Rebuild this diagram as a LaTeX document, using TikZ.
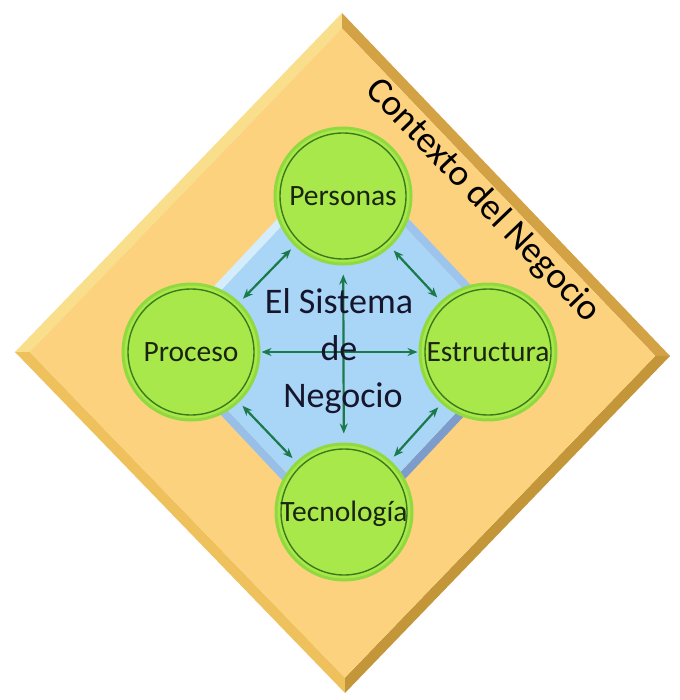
\documentclass[tikz,border=0pt]{standalone}
\usepackage{fontspec}
\setmainfont{Carlito}
\usetikzlibrary{arrows.meta,calc}
\definecolor{oface}{HTML}{FDD27E}
\definecolor{obUL}{HTML}{F9DE8C}
\definecolor{obUR}{HTML}{D2A244}
\definecolor{obLR}{HTML}{C4963A}
\definecolor{obLL}{HTML}{EEC15C}
\definecolor{bface}{HTML}{A9D5F6}
\definecolor{bbUL}{HTML}{D4EDFC}
\definecolor{bbUR}{HTML}{9CC4EC}
\definecolor{bbLR}{HTML}{7E9CCB}
\definecolor{bbLL}{HTML}{97BFE7}
\definecolor{ballfill}{HTML}{A8E84A}
\definecolor{ballring}{HTML}{90DA40}
\definecolor{balldark}{HTML}{3A7A1C}
\definecolor{balltext}{HTML}{1A2410}
\definecolor{linkc}{HTML}{1B7A4C}
\definecolor{maintext}{HTML}{15152B}
\begin{document}
\begin{tikzpicture}[x=1pt,y=-1pt,
  ball/.style={circle, minimum size=136pt, inner sep=0pt, fill=ballfill, draw=ballring,
    line width=3pt, font=\fontsize{29.5}{31}\selectfont, text=balltext,
    text height=19pt, text depth=0pt,
    path picture={\draw[balldark,line width=1.4pt] (path picture bounding box.center) circle (63pt);}},
  link/.style={draw=linkc, line width=2.2pt,
    arrows={Stealth[length=10pt,width=8pt]-Stealth[length=10pt,width=8pt]}},
  bigtext/.style={font=\fontsize{36}{40}\selectfont, text=maintext, anchor=base, inner sep=0pt}]
\useasboundingbox (0,0) rectangle (679,700);
\fill[white] (0,0) rectangle (679,700);

% outer diamond
\coordinate (oc) at (343,353);
\coordinate (oT) at (342,13);
\coordinate (oR) at (670,356);
\coordinate (oB) at (345,693);
\coordinate (oL) at (15,352);
\coordinate (oT2) at ($(oc)!0.955!(oT)$);
\coordinate (oR2) at ($(oc)!0.955!(oR)$);
\coordinate (oB2) at ($(oc)!0.955!(oB)$);
\coordinate (oL2) at ($(oc)!0.955!(oL)$);
\fill[obUL] (oL) -- (oT) -- (oT2) -- (oL2) -- cycle;
\fill[obUR] (oT) -- (oR) -- (oR2) -- (oT2) -- cycle;
\fill[obLR] (oR) -- (oB) -- (oB2) -- (oR2) -- cycle;
\fill[obLL] (oB) -- (oL) -- (oL2) -- (oB2) -- cycle;
\fill[oface] (oT2) -- (oR2) -- (oB2) -- (oL2) -- cycle;

% inner blue diamond
\coordinate (bc) at (343,347);
\coordinate (bT) at (343,149);
\coordinate (bR) at (529,347);
\coordinate (bB) at (343,545);
\coordinate (bL) at (157,347);
\coordinate (bT2) at ($(bc)!0.94!(bT)$);
\coordinate (bR2) at ($(bc)!0.94!(bR)$);
\coordinate (bB2) at ($(bc)!0.94!(bB)$);
\coordinate (bL2) at ($(bc)!0.94!(bL)$);
\fill[bbUL] (bL) -- (bT) -- (bT2) -- (bL2) -- cycle;
\fill[bbUR] (bT) -- (bR) -- (bR2) -- (bT2) -- cycle;
\fill[bbLR] (bR) -- (bB) -- (bB2) -- (bR2) -- cycle;
\fill[bbLL] (bB) -- (bL) -- (bL2) -- (bB2) -- cycle;
\fill[bface] (bT2) -- (bR2) -- (bB2) -- (bL2) -- cycle;

% circles
\node[ball] (per) at (343,196) {Personas};
\node[ball] (pro) at (191,352) {Proceso};
\node[ball] (est) at (488,352) {Estructura};
\node[ball] (tec) at (344,512) {Tecnología};

% connectors
\draw[link, shorten <=5pt, shorten >=5pt] (per) -- (pro);
\draw[link, shorten <=5pt, shorten >=5pt] (per) -- (est);
\draw[link, shorten <=5pt, shorten >=5pt] (pro) -- (tec);
\draw[link, shorten <=5pt, shorten >=5pt] (est) -- (tec);
\draw[link, shorten <=1pt, shorten >=1pt] (pro) -- (est);
\draw[link, shorten <=9pt, shorten >=9pt] (per) -- (tec);

% centre text
\node[bigtext] (t1) at (339,313) {El Sistema};
\node[bigtext] (t2) at (339,360) {de};
\node[bigtext] (t3) at (343,407) {Negocio};

% context label
\node[font=\fontsize{37}{40}\selectfont, text=black, rotate=-46.2, inner sep=0pt] (ctx) at (483,201) {Contexto del Negocio};
\end{tikzpicture}
\end{document}
